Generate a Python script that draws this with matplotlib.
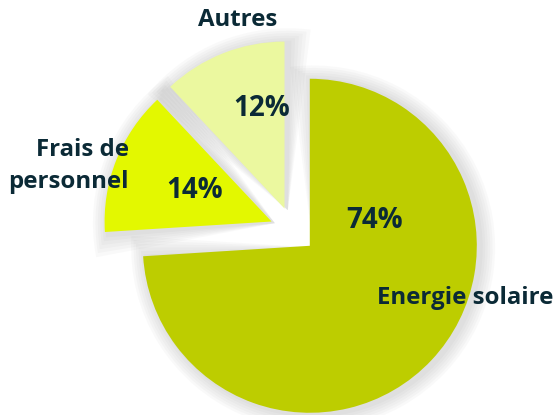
import matplotlib.pyplot as plt
from matplotlib.patches import Wedge

# data
labels = ['Energie solaire', 'Frais de\npersonnel', 'Autres']
values = [74, 14, 12]
colors = ['#BDCD00', '#E3F800', '#EBF89F']
explode = [0.138, 0.138, 0.138]

text_color = '#0B2A36'
plt.rcParams['font.family'] = ['Open Sans', 'DejaVu Sans']

fig = plt.figure(figsize=(5.54, 4.15), dpi=100)
ax = fig.add_axes([0, 0, 1, 1])

# pixel -> data helper (centre at px 293,230, radius 167 px)
cx, cy, rpx = 293, 230, 167.0


def px(x, y):
    return (x - cx) / rpx, (cy - y) / rpx


wedges, texts, pcts = ax.pie(values, labels=labels, colors=colors, explode=explode,
                             startangle=90, counterclock=False, radius=1.0,
                             autopct='%1.0f%%', wedgeprops=dict(linewidth=0),
                             textprops=dict(color=text_color, fontsize=17.3, fontweight='bold'))

# soft shadow behind each slice
for w in wedges:
    c = w.center
    for k in range(6):
        s = Wedge((c[0] + 0.02, c[1] - 0.01), w.r + 0.015 * (k + 1), w.theta1 - 1.2 * (k + 1),
                  w.theta2 + 1.2 * (k + 1), color='#808080', alpha=0.045, linewidth=0, zorder=0)
        ax.add_patch(s)

label_pos = [(465, 298), (70, 166), (238, 20)]
label_ha = ['center', 'right', 'center']
for t, p, ha in zip(texts, label_pos, label_ha):
    if ha == 'right':
        t.set_position(px(129, p[1]))
        t.set_ha('right')
        t.set_multialignment('right')
    else:
        t.set_position(px(*p))
        t.set_ha('center')
    t.set_va('center')
    t.set_linespacing(1.45)

pct_pos = [(375, 221), (195, 190), (262, 108)]
for t, p in zip(pcts, pct_pos):
    t.set_position(px(*p))
    t.set_fontsize(20)

ax.set_xlim(-cx / rpx, (554 - cx) / rpx)
ax.set_ylim(-(415 - cy) / rpx, cy / rpx)
ax.set_aspect('equal')
ax.axis('off')

fig.savefig('out.png', dpi=100)
